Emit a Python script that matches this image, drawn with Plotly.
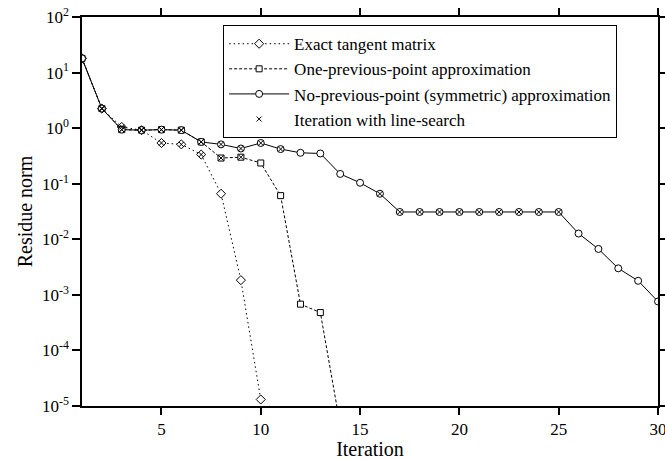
import plotly.graph_objects as go

iterations = list(range(1, 31))

exact_tangent = [18, 2.25, 1.05, 0.92, 0.54, 0.51, 0.335, 0.066, 1.84e-3, 1.31e-5]
one_previous = [18, 2.25, 0.94, 0.92, 0.94, 0.92, 0.565, 0.29, 0.30, 0.236,
                0.061, 6.8e-4, 4.8e-4, 4.5e-6]
no_previous = [18, 2.25, 0.94, 0.92, 0.94, 0.92, 0.565, 0.51, 0.43, 0.54,
               0.42, 0.36, 0.35, 0.15, 0.104, 0.066, 0.031, 0.031, 0.031, 0.031,
               0.031, 0.031, 0.031, 0.031, 0.031, 0.0127, 6.7e-3, 3.0e-3, 1.79e-3, 7.6e-4]

# iterations where a line-search was performed, per series
exact_ls = [2, 3, 4, 5, 6, 7]
one_prev_ls = [2, 3, 4, 5, 6, 7, 8, 9]
no_prev_ls = [2, 3, 4, 5, 6, 7, 8, 9, 10, 11, 16, 17, 18, 19, 20, 21, 22, 23, 24, 25]

xtick_vals = [5, 10, 15, 20, 25, 30]
ytick_vals = [1e-5, 1e-4, 1e-3, 1e-2, 1e-1, 1e0, 1e1, 1e2]
ytick_text = ["10<sup>-5</sup>", "10<sup>-4</sup>", "10<sup>-3</sup>", "10<sup>-2</sup>",
              "10<sup>-1</sup>", "10<sup>0</sup>", "10<sup>1</sup>", "10<sup>2</sup>"]

FONT = "Liberation Serif, Times New Roman, serif"

fig = go.Figure()

def add_series(vals, name, dash, symbol, size):
    fig.add_trace(go.Scatter(
        x=iterations[:len(vals)], y=vals, mode="lines+markers", name=name,
        line=dict(color="black", width=1, dash=dash),
        marker=dict(symbol=symbol, size=size, color="white",
                    line=dict(color="black", width=1)),
    ))

add_series(exact_tangent, "Exact tangent matrix", "1.5px,3px", "diamond", 7)
add_series(one_previous, "One-previous-point approximation", "3px,2px", "square", 6)
add_series(no_previous, "No-previous-point (symmetric) approximation", "solid", "circle", 7)

ls_x, ls_y = [], []
for lst, vals in ((exact_ls, exact_tangent), (one_prev_ls, one_previous), (no_prev_ls, no_previous)):
    for it in lst:
        ls_x.append(it)
        ls_y.append(vals[it - 1])

fig.add_trace(go.Scatter(
    x=ls_x, y=ls_y, mode="markers", name="Iteration with line-search",
    marker=dict(symbol="x-thin", size=5, color="black",
                line=dict(color="black", width=1)),
))

fig.update_layout(
    width=665, height=460,
    margin=dict(l=82, r=7, t=17, b=54),
    paper_bgcolor="white", plot_bgcolor="white",
    font=dict(family=FONT, size=17, color="black"),
    showlegend=True,
    legend=dict(x=0.245, y=0.979, xanchor="left", yanchor="top",
                bordercolor="black", borderwidth=1, bgcolor="white",
                font=dict(family=FONT, size=17, color="black"),
                itemwidth=60, tracegroupgap=0),
    xaxis=dict(range=[1, 30], tickvals=xtick_vals, ticks="outside", ticklen=7,
               tickwidth=1.5, tickcolor="black", showline=True, linecolor="black",
               linewidth=1.5, mirror="ticks", showgrid=False, zeroline=False,
               automargin=False, ticklabeloverflow="allow",
               title=dict(text="Iteration", font=dict(size=20), standoff=2),
               tickfont=dict(size=17)),
    yaxis=dict(type="log", range=[-5, 2], tickvals=ytick_vals, ticktext=ytick_text,
               ticks="outside", ticklen=8, tickwidth=1.5, tickcolor="black",
               showline=True, linecolor="black", linewidth=1.5, mirror="ticks",
               showgrid=False, zeroline=False, automargin=False,
               title=dict(text="Residue norm", font=dict(size=20), standoff=4),
               tickfont=dict(size=17)),
)

fig.write_html("out.html")
